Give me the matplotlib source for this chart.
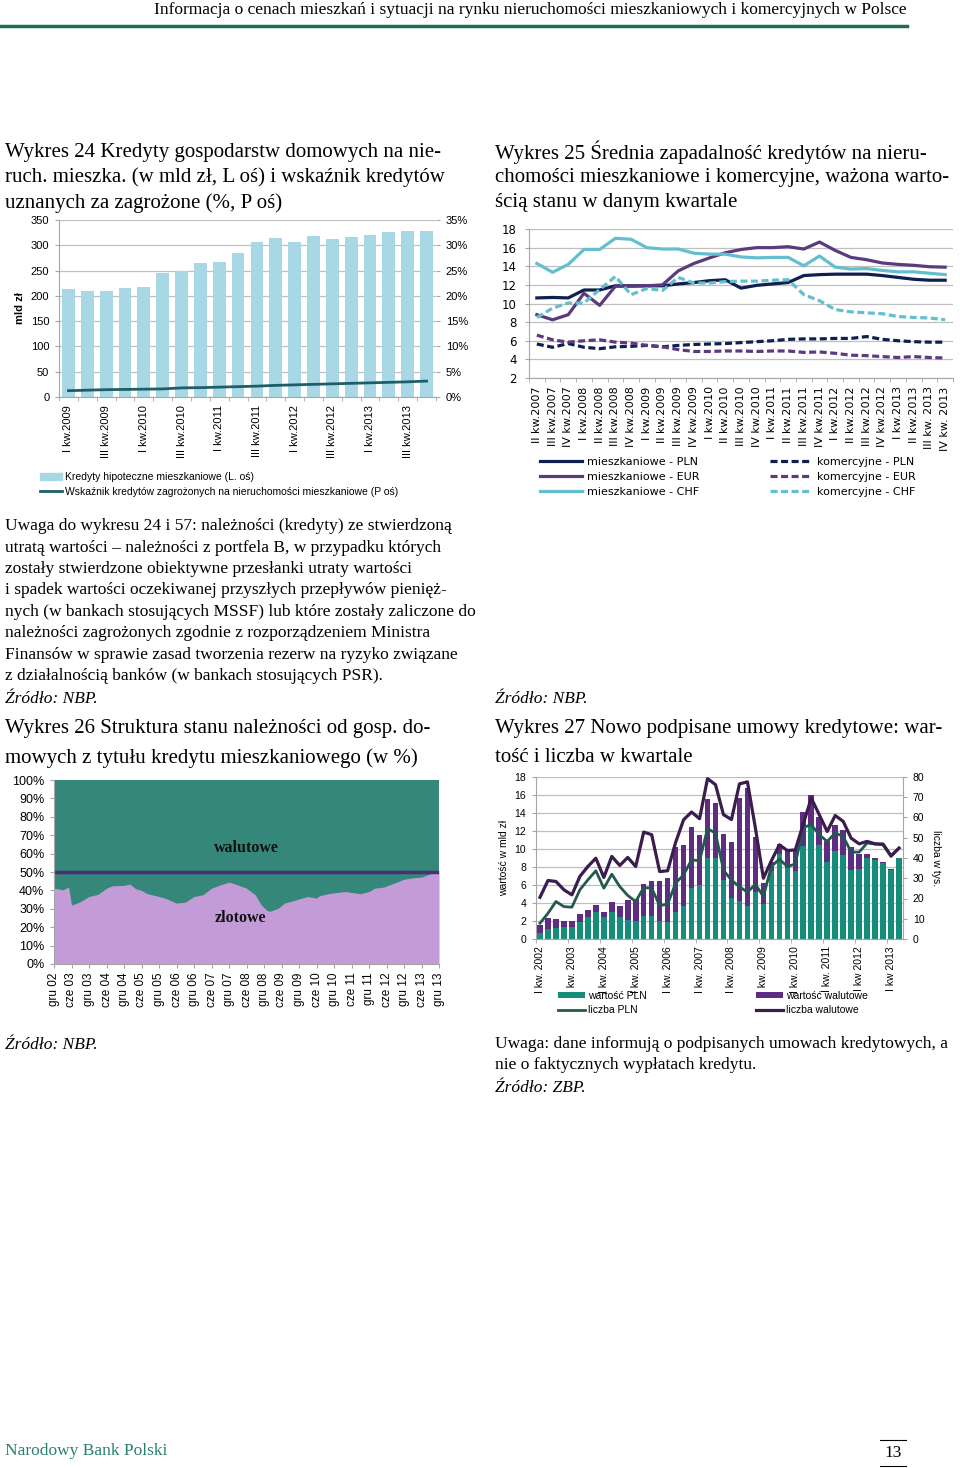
import matplotlib.pyplot as plt
import numpy as np
from matplotlib.patches import Patch
from matplotlib.lines import Line2D

plt.rcParams['font.family'] = ['Liberation Sans', 'DejaVu Sans']

W, H = 960, 1468
SERIF = ['Liberation Serif', 'DejaVu Serif']
GRID = '#BFBFBF'

# --- Wykres 24 ---
kw24 = ['I kw.2009', 'III kw.2009', 'I kw.2010', 'III kw.2010', 'I kw.2011',
        'III kw.2011', 'I kw.2012', 'III kw.2012', 'I kw.2013', 'III kw.2013']
kredyty_hip = [213, 210, 210, 216, 217, 246, 249, 264, 266, 284,
               307, 314, 307, 318, 313, 316, 320, 327, 328, 328]
wskaznik = [1.25, 1.35, 1.45, 1.5, 1.55, 1.6, 1.8, 1.85, 1.95, 2.05,
            2.15, 2.3, 2.4, 2.5, 2.6, 2.7, 2.8, 2.9, 3.0, 3.15]

# --- Wykres 25 ---
kw25 = ['II kw.2007', 'III kw.2007', 'IV kw.2007', 'I kw.2008', 'II kw.2008',
        'III kw.2008', 'IV kw.2008', 'I kw.2009', 'II kw.2009', 'III kw.2009',
        'IV kw.2009', 'I kw.2010', 'II kw.2010', 'III kw.2010', 'IV kw.2010',
        'I kw.2011', 'II kw.2011', 'III kw.2011', 'IV kw.2011', 'I kw.2012',
        'II kw.2012', 'III kw.2012', 'IV kw.2012', 'I kw.2013', 'II kw.2013',
        'III kw. 2013', 'IV kw. 2013']
m_pln = [10.6, 10.65, 10.6, 11.45, 11.45, 11.9, 11.9, 11.9, 11.9, 12.1, 12.25, 12.45, 12.55,
         11.65, 11.95, 12.1, 12.25, 13.0, 13.1, 13.15, 13.15, 13.15, 13.0, 12.8, 12.6, 12.5, 12.5]
m_eur = [8.8, 8.25, 8.8, 11.1, 9.8, 11.85, 11.85, 11.9, 12.0, 13.5, 14.3, 14.9, 15.45,
         15.8, 16.0, 16.0, 16.1, 15.85, 16.6, 15.7, 14.95, 14.7, 14.35, 14.2, 14.1, 13.95, 13.9]
m_chf = [14.3, 13.35, 14.2, 15.8, 15.8, 17.0, 16.9, 16.0, 15.85, 15.85, 15.4, 15.3, 15.3,
         15.0, 14.9, 14.95, 14.95, 14.05, 15.1, 13.9, 13.7, 13.75, 13.55, 13.4, 13.4, 13.25, 13.1]
k_pln = [5.65, 5.3, 5.7, 5.3, 5.15, 5.35, 5.4, 5.5, 5.35, 5.5, 5.6, 5.65, 5.7,
         5.8, 5.9, 6.0, 6.15, 6.2, 6.2, 6.25, 6.25, 6.45, 6.15, 6.0, 5.9, 5.85, 5.85]
k_eur = [6.6, 6.1, 5.85, 6.0, 6.1, 5.85, 5.75, 5.5, 5.35, 5.05, 4.85, 4.85, 4.9,
         4.9, 4.85, 4.9, 4.9, 4.75, 4.8, 4.65, 4.45, 4.4, 4.3, 4.2, 4.3, 4.2, 4.15]
k_chf = [8.5, 9.5, 10.05, 10.05, 11.5, 12.9, 10.95, 11.6, 11.4, 12.8, 12.2, 12.2, 12.35,
         12.4, 12.4, 12.5, 12.55, 10.95, 10.3, 9.35, 9.1, 9.0, 8.9, 8.6, 8.5, 8.45, 8.25]

# --- Wykres 26 ---
mies26 = ['gru 02', 'cze 03', 'gru 03', 'cze 04', 'gru 04', 'cze 05', 'gru 05', 'cze 06',
          'gru 06', 'cze 07', 'gru 07', 'cze 08', 'gru 08', 'cze 09', 'gru 09', 'cze 10',
          'gru 10', 'cze 11', 'gru 11', 'cze 12', 'gru 12', 'cze 13', 'gru 13']
# miesiące od grudnia 2002 i udział kredytów złotowych (%)
zl_mies = [0, 3, 5, 6, 8, 9, 12, 15, 18, 20, 24, 26, 28, 30, 32, 36, 38, 42, 45, 48, 51,
           54, 57, 60, 63, 66, 69, 71, 73, 74, 77, 79, 82, 85, 87, 90, 91, 94, 97, 100,
           105, 108, 110, 113, 115, 118, 120, 124, 126, 129, 132]
zl_udzial = [41.2, 40.3, 41.8, 32.0, 33.2, 33.8, 36.7, 37.8, 41.2, 42.5, 42.7, 43.4, 40.9,
             40.0, 38.2, 36.7, 35.8, 33.1, 33.6, 36.7, 37.6, 41.2, 43.0, 44.5, 43.0, 41.2,
             37.6, 32.2, 29.1, 28.6, 30.4, 33.1, 34.4, 35.8, 36.7, 35.8, 37.1, 38.2, 38.9,
             39.4, 38.2, 39.4, 41.2, 41.8, 43.0, 44.8, 46.1, 47.0, 47.2, 49.0, 50.8]

# --- Wykres 27 ---
kw27 = ['I kw. 2002', 'I kw. 2003', 'I kw. 2004', 'I kw. 2005', 'I kw. 2006', 'I kw. 2007',
        'I kw. 2008', 'I kw. 2009', 'I kw. 2010', 'I kw. 2011', 'I kw 2012', 'I kw 2013']
wart_pln = [0.63, 1.1, 1.25, 1.3, 1.3, 1.85, 2.4, 3.0, 2.4, 3.05, 2.4, 2.1, 2.0, 2.6, 2.6,
            1.95, 1.85, 3.05, 3.7, 5.65, 5.95, 9.05, 9.05, 6.6, 4.6, 4.25, 3.7, 5.25, 3.9,
            7.55, 9.4, 7.85, 7.55, 10.3, 12.7, 10.4, 8.6, 9.8, 9.3, 7.7, 7.8, 9.0, 8.8,
            8.45, 7.7, 9.0]
wart_razem = [1.55, 2.3, 2.2, 2.0, 2.0, 2.75, 3.25, 3.8, 3.05, 4.1, 3.7, 4.35, 4.4, 6.1,
              6.45, 6.4, 6.75, 10.2, 10.45, 12.4, 11.6, 15.5, 15.1, 11.7, 10.8, 15.7, 16.8,
              11.3, 6.2, 8.6, 10.6, 9.9, 9.9, 14.1, 16.0, 13.6, 10.9, 12.7, 12.1, 10.2, 9.5,
              9.5, 9.05, 8.55, 7.75, 9.0]
liczba_pln = [7.8, 12.7, 18.5, 16.0, 15.7, 24.3, 29.2, 33.7, 25.1, 32.0, 25.9, 21.5, 18.5,
              25.4, 25.1, 16.5, 17.2, 27.6, 31.7, 39.1, 38.6, 54.5, 52.3, 34.0, 29.0, 25.9,
              23.1, 27.0, 21.0, 35.8, 39.4, 35.8, 37.0, 55.1, 56.4, 51.5, 48.2, 52.3, 50.7,
              42.9, 42.9, 47.4, 46.9, 46.5, 40.8, 44.9]
liczba_wal = [20.6, 28.9, 28.4, 24.3, 21.8, 30.9, 35.8, 39.9, 30.4, 40.8, 36.3, 40.3, 35.8,
              52.8, 51.5, 33.3, 33.7, 47.7, 58.9, 62.7, 59.4, 79.2, 76.2, 61.4, 59.0, 76.6,
              77.6, 54.8, 30.0, 38.6, 46.5, 43.7, 44.0, 56.8, 69.6, 61.4, 53.1, 61.0, 58.1,
              49.8, 47.0, 48.2, 47.0, 46.9, 41.1, 44.9]

fig = plt.figure(figsize=(W / 100, H / 100), dpi=100)


def px_ax(x0, y0, x1, y1):
    return fig.add_axes([x0 / W, 1 - y1 / H, (x1 - x0) / W, (y1 - y0) / H])


def txt(x, y, s, **kw):
    kw.setdefault('va', 'center')
    kw.setdefault('family', SERIF)
    fig.text(x / W, 1 - y / H, s, **kw)


def fig_legend(handles, labels, x, y, fs, **kw):
    fig.legend(handles, labels, loc='upper left', bbox_to_anchor=(x / W, 1 - y / H),
               bbox_transform=fig.transFigure, frameon=False, fontsize=fs,
               borderpad=0, borderaxespad=0, **kw)


def style_axes(ax):
    for s in ['top', 'right']:
        ax.spines[s].set_visible(False)
    for s in ['left', 'bottom']:
        ax.spines[s].set_color('#A6A6A6')
    ax.tick_params(colors='#A6A6A6', labelcolor='black')
    ax.yaxis.grid(True, color=GRID, lw=0.9)
    ax.set_axisbelow(True)


# naglowek strony
txt(907, 10, 'Informacja o cenach mieszkań i sytuacji na rynku nieruchomości '
    'mieszkaniowych i komercyjnych w Polsce', ha='right', fontsize=12.5)
fig.add_artist(Line2D([0, 907 / W], [1 - 26 / H] * 2, color='#1F6B5A', lw=2.5))

# tytuly
tfs = 15
for i, s in enumerate(['Wykres 24 Kredyty gospodarstw domowych na nie-',
                       'ruch. mieszka. (w mld zł, L oś) i wskaźnik kredytów',
                       'uznanych za zagrożone (%, P oś)']):
    txt(5, 152 + 25.5 * i, s, fontsize=tfs)
for i, s in enumerate(['Wykres 25 Średnia zapadalność kredytów na nieru-',
                       'chomości mieszkaniowe i komercyjne, ważona warto-',
                       'ścią stanu w danym kwartale']):
    txt(495, 152 + 25.5 * i, s, fontsize=tfs)
for i, s in enumerate(['Wykres 26 Struktura stanu należności od gosp. do-',
                       'mowych z tytułu kredytu mieszkaniowego (w %)']):
    txt(5, 728 + 30 * i, s, fontsize=tfs)
for i, s in enumerate(['Wykres 27 Nowo podpisane umowy kredytowe: war-',
                       'tość i liczba w kwartale']):
    txt(495, 728 + 30 * i, s, fontsize=tfs)

# uwaga pod wykresem 24
uwaga = ['Uwaga do wykresu 24 i 57: należności (kredyty) ze stwierdzoną',
         'utratą wartości – należności z portfela B, w przypadku których',
         'zostały stwierdzone obiektywne przesłanki utraty wartości',
         'i spadek wartości oczekiwanej przyszłych przepływów pienięż-',
         'nych (w bankach stosujących MSSF) lub które zostały zaliczone do',
         'należności zagrożonych zgodnie z rozporządzeniem Ministra',
         'Finansów w sprawie zasad tworzenia rezerw na ryzyko związane',
         'z działalnością banków (w bankach stosujących PSR).']
bfs = 12.5
for i, s in enumerate(uwaga):
    txt(5, 526 + 21.5 * i, s, fontsize=bfs)
txt(5, 699, 'Źródło: NBP.', fontsize=bfs, style='italic')
txt(495, 699, 'Źródło: NBP.', fontsize=bfs, style='italic')
txt(5, 1045, 'Źródło: NBP.', fontsize=bfs, style='italic')
txt(495, 1044, 'Uwaga: dane informują o podpisanych umowach kredytowych, a', fontsize=bfs)
txt(495, 1065, 'nie o faktycznych wypłatach kredytu.', fontsize=bfs)
txt(495, 1088, 'Źródło: ZBP.', fontsize=bfs, style='italic')

# stopka
txt(5, 1451, 'Narodowy Bank Polski', fontsize=12.5, color='#2A7F6F')
txt(893, 1453, '13', fontsize=12.5, ha='center')
fig.add_artist(Line2D([880 / W, 906 / W], [1 - 1440 / H] * 2, color='black', lw=0.8))
fig.add_artist(Line2D([880 / W, 906 / W], [1 - 1466 / H] * 2, color='black', lw=0.8))

# ===== Wykres 24 =====
ax = px_ax(59, 220, 436, 397)
x = np.arange(len(kredyty_hip))
ax.bar(x, kredyty_hip, width=0.68, color='#A8D8E6', zorder=2)
ax.set_xlim(-0.5, len(x) - 0.5)
ax.set_ylim(0, 350)
ax.set_yticks(range(0, 351, 50))
style_axes(ax)
ax.set_xticks(x[::2])
ax.set_xticklabels(kw24, rotation=90, fontsize=8)
ax.set_xticks(np.arange(-0.5, len(x), 1), minor=True)
ax.tick_params(axis='x', which='major', length=0, pad=6)
ax.tick_params(axis='x', which='minor', length=3, color='#A6A6A6')
ax.tick_params(axis='y', length=3, labelsize=8, pad=4)
ax.set_ylabel('mld zł', fontsize=8, fontweight='bold', labelpad=4)
ax2 = ax.twinx()
ax2.plot(x, wskaznik, color='#1D5E68', lw=2, zorder=3)
ax2.set_ylim(0, 35)
ax2.set_yticks(range(0, 36, 5))
ax2.set_yticklabels([f'{v}%' for v in range(0, 36, 5)])
for s in ['top', 'left', 'bottom', 'right']:
    ax2.spines[s].set_visible(False)
ax2.tick_params(axis='y', length=3, colors='#A6A6A6', labelcolor='black', labelsize=8, pad=4)
fig_legend([Patch(color='#A8D8E6'), Line2D([], [], color='#1D5E68', lw=2)],
           ['Kredyty hipoteczne mieszkaniowe (L. oś)',
            'Wskaźnik kredytów zagrożonych na nieruchomości mieszkaniowe (P oś)'],
           40, 472, 7.5, handlelength=2.1, handleheight=0.6, handletextpad=0.3,
           labelspacing=0.45)

# ===== Wykres 25 =====
ax = px_ax(529, 229, 953, 378)
x = np.arange(len(kw25))
c_pln, c_eur, c_chf = '#0F1F50', '#5C3A7E', '#62BFCD'
dash = (0, (2.2, 1.1))
ax.plot(x, m_pln, color=c_pln, lw=2.3, label='mieszkaniowe - PLN')
ax.plot(x, m_eur, color=c_eur, lw=2.3, label='mieszkaniowe - EUR')
ax.plot(x, m_chf, color=c_chf, lw=2.3, label='mieszkaniowe - CHF')
ax.plot(x, k_pln, color=c_pln, lw=2.3, ls=dash, label='komercyjne - PLN')
ax.plot(x, k_eur, color=c_eur, lw=2.3, ls=dash, label='komercyjne - EUR')
ax.plot(x, k_chf, color=c_chf, lw=2.3, ls=dash, label='komercyjne - CHF')
ax.set_xlim(-0.5, len(x) - 0.5)
ax.set_ylim(2, 18)
ax.set_yticks(range(2, 19, 2))
style_axes(ax)
ax.set_xticks(x)
ax.set_xticklabels(kw25, rotation=90, fontsize=8, family=['DejaVu Sans'])
ax.set_xticks(np.arange(-0.5, len(x), 1), minor=True)
ax.tick_params(axis='x', which='major', length=0, pad=6)
ax.tick_params(axis='x', which='minor', length=3, color='#A6A6A6')
ax.tick_params(axis='y', length=3, labelsize=8.5, pad=6)
for lab in ax.get_yticklabels():
    lab.set_family(['DejaVu Sans'])
h, l = ax.get_legend_handles_labels()
fig_legend(h[:3], l[:3], 540, 457, 8, handlelength=3.8, handletextpad=0.4,
           labelspacing=0.45, prop={'family': ['DejaVu Sans'], 'size': 8})
fig_legend(h[3:], l[3:], 770, 457, 8, handlelength=3.8, handletextpad=0.4,
           labelspacing=0.45, prop={'family': ['DejaVu Sans'], 'size': 8})

# ===== Wykres 26 =====
ax = px_ax(54, 780, 439, 964)
ax.fill_between(zl_mies, 0, 100, color='#35877A', lw=0)
ax.fill_between(zl_mies, 0, zl_udzial, color='#C39BD6', lw=0)
ax.plot([0, 132], [50, 50], color='#4D2D75', lw=2.5)
ax.set_xlim(0, 132)
ax.set_ylim(0, 100)
ax.set_yticks(range(0, 101, 10))
ax.set_yticklabels([f'{v}%' for v in range(0, 101, 10)])
for s in ['top', 'right']:
    ax.spines[s].set_visible(False)
for s in ['left', 'bottom']:
    ax.spines[s].set_color('#A6A6A6')
ax.set_xticks(range(0, 133, 6))
ax.set_xticklabels(mies26, rotation=90, fontsize=8.5)
ax.tick_params(axis='x', length=3, color='#A6A6A6', pad=3)
ax.tick_params(axis='y', length=3, color='#A6A6A6', labelsize=9, pad=4)
ax.text(66, 63, 'walutowe', ha='center', va='center', fontsize=11.5,
        fontweight='bold', family=SERIF, color='#111111')
ax.text(64, 25, 'zlotowe', ha='center', va='center', fontsize=11.5,
        fontweight='bold', family=SERIF, color='#111111')

# ===== Wykres 27 =====
ax = px_ax(536, 777, 903, 939)
x = np.arange(len(wart_pln))
wart_wal = [r - p for r, p in zip(wart_razem, wart_pln)]
ax.bar(x, wart_pln, width=0.7, color='#168C7A', zorder=2, label='wartość PLN')
ax.bar(x, wart_wal, width=0.7, bottom=wart_pln, color='#5E2C82', zorder=2,
       label='wartość walutowe')
ax.set_xlim(-0.5, len(x) - 0.5)
ax.set_ylim(0, 18)
ax.set_yticks(range(0, 19, 2))
style_axes(ax)
ax.set_xticks(x[::4])
ax.set_xticklabels(kw27, rotation=90, fontsize=7.5)
ax.set_xticks(np.arange(-0.5, len(x), 4), minor=True)
ax.tick_params(axis='x', which='major', length=0, pad=5)
ax.tick_params(axis='x', which='minor', length=3, color='#A6A6A6')
ax.tick_params(axis='y', length=3, labelsize=7.5, pad=4)
ax.set_ylabel('wartość w mld zł', fontsize=7.5, labelpad=4)
ax2 = ax.twinx()
ax2.plot(x, liczba_pln, color='#22594F', lw=2, zorder=3, label='liczba PLN')
ax2.plot(x, liczba_wal, color='#3A1D4D', lw=2.3, zorder=3, label='liczba walutowe')
ax2.set_ylim(0, 80)
ax2.set_yticks(range(0, 81, 10))
for s in ['top', 'left', 'bottom']:
    ax2.spines[s].set_visible(False)
ax2.spines['right'].set_color('#A6A6A6')
ax2.tick_params(axis='y', length=3, colors='#A6A6A6', labelcolor='black', labelsize=7.5, pad=4)
ax2.set_ylabel('liczba w tys.', fontsize=7.5, rotation=270, labelpad=12)
hb, lb = ax.get_legend_handles_labels()
hl, ll = ax2.get_legend_handles_labels()
fig_legend([hb[0], hl[0]], [lb[0], ll[0]], 558, 991, 7.5, handlelength=2.6,
           handleheight=0.5, handletextpad=0.3, labelspacing=0.4)
fig_legend([hb[1], hl[1]], [lb[1], ll[1]], 756, 991, 7.5, handlelength=2.6,
           handleheight=0.5, handletextpad=0.3, labelspacing=0.4)

fig.savefig('out.png', dpi=100)
